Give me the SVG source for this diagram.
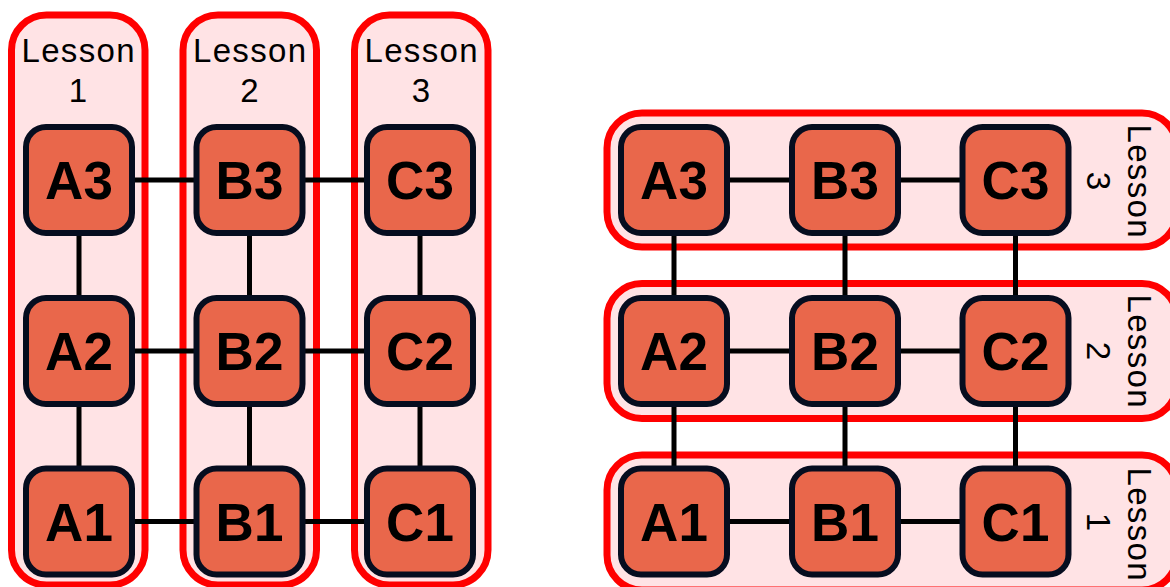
<svg xmlns="http://www.w3.org/2000/svg" width="1170" height="587" viewBox="0 0 1170 587">
<style>
.lane{fill:#ffe3e5;stroke:#ff0000;stroke-width:7}
.node rect{fill:#e9674b;stroke:#060d1f;stroke-width:6}
.node text{font-family:"Liberation Sans",Arial,sans-serif;font-weight:bold;font-size:53px;fill:#000;text-anchor:middle}
.lbl{font-family:"Liberation Sans",Arial,sans-serif;font-size:33px;fill:#000;text-anchor:middle}
.conn line{stroke:#000;stroke-width:5}
</style>
<rect width="1170" height="587" fill="#fff"/>
<!-- left lanes -->
<g id="lane-l1"><rect class="lane" x="11.5" y="15" width="133.5" height="570" rx="35"/><text class="lbl" x="78" y="62" textLength="113">Lesson</text><text class="lbl" x="78" y="102">1</text></g>
<g id="lane-l2"><rect class="lane" x="183" y="15" width="133.5" height="570" rx="35"/><text class="lbl" x="249.5" y="62" textLength="113">Lesson</text><text class="lbl" x="249.5" y="102">2</text></g>
<g id="lane-l3"><rect class="lane" x="354.5" y="15" width="133.5" height="570" rx="35"/><text class="lbl" x="421" y="62" textLength="113">Lesson</text><text class="lbl" x="421" y="102">3</text></g>
<!-- right lanes -->
<g id="lane-r3"><rect class="lane" x="607" y="113" width="570" height="134" rx="35"/><text class="lbl" transform="translate(1128,181) rotate(90)" textLength="113">Lesson</text><text class="lbl" transform="translate(1087,181) rotate(90)">3</text></g>
<g id="lane-r2"><rect class="lane" x="607" y="283.5" width="570" height="135" rx="35"/><text class="lbl" transform="translate(1128,351) rotate(90)" textLength="113">Lesson</text><text class="lbl" transform="translate(1087,351) rotate(90)">2</text></g>
<g id="lane-r1"><rect class="lane" x="607" y="455" width="570" height="135" rx="35"/><text class="lbl" transform="translate(1128,524) rotate(90)" textLength="113">Lesson</text><text class="lbl" transform="translate(1087,522) rotate(90)">1</text></g>
<!-- connectors -->
<g id="connectors" class="conn">
<line x1="79" y1="180" x2="249.5" y2="180"/><line x1="249.5" y1="180" x2="420" y2="180"/>
<line x1="79" y1="351" x2="249.5" y2="351"/><line x1="249.5" y1="351" x2="420" y2="351"/>
<line x1="79" y1="521.5" x2="249.5" y2="521.5"/><line x1="249.5" y1="521.5" x2="420" y2="521.5"/>
<line x1="79" y1="180" x2="79" y2="351"/><line x1="79" y1="351" x2="79" y2="521.5"/>
<line x1="249.5" y1="180" x2="249.5" y2="351"/><line x1="249.5" y1="351" x2="249.5" y2="521.5"/>
<line x1="420" y1="180" x2="420" y2="351"/><line x1="420" y1="351" x2="420" y2="521.5"/>
<line x1="674" y1="180" x2="845" y2="180"/><line x1="845" y1="180" x2="1015.5" y2="180"/>
<line x1="674" y1="351" x2="845" y2="351"/><line x1="845" y1="351" x2="1015.5" y2="351"/>
<line x1="674" y1="521.5" x2="845" y2="521.5"/><line x1="845" y1="521.5" x2="1015.5" y2="521.5"/>
<line x1="674" y1="180" x2="674" y2="351"/><line x1="674" y1="351" x2="674" y2="521.5"/>
<line x1="845" y1="180" x2="845" y2="351"/><line x1="845" y1="351" x2="845" y2="521.5"/>
<line x1="1015.5" y1="180" x2="1015.5" y2="351"/><line x1="1015.5" y1="351" x2="1015.5" y2="521.5"/>
</g>
<!-- left nodes -->
<g id="L-A3" class="node"><rect x="26" y="127" width="106" height="106" rx="20"/><text x="79" y="199">A3</text></g>
<g id="L-B3" class="node"><rect x="196.5" y="127" width="106" height="106" rx="20"/><text x="249.5" y="199">B3</text></g>
<g id="L-C3" class="node"><rect x="367" y="127" width="106" height="106" rx="20"/><text x="420" y="199">C3</text></g>
<g id="L-A2" class="node"><rect x="26" y="298" width="106" height="106" rx="20"/><text x="79" y="370">A2</text></g>
<g id="L-B2" class="node"><rect x="196.5" y="298" width="106" height="106" rx="20"/><text x="249.5" y="370">B2</text></g>
<g id="L-C2" class="node"><rect x="367" y="298" width="106" height="106" rx="20"/><text x="420" y="370">C2</text></g>
<g id="L-A1" class="node"><rect x="26" y="468.5" width="106" height="106" rx="20"/><text x="79" y="540.5">A1</text></g>
<g id="L-B1" class="node"><rect x="196.5" y="468.5" width="106" height="106" rx="20"/><text x="249.5" y="540.5">B1</text></g>
<g id="L-C1" class="node"><rect x="367" y="468.5" width="106" height="106" rx="20"/><text x="420" y="540.5">C1</text></g>
<!-- right nodes -->
<g id="R-A3" class="node"><rect x="621" y="127" width="106" height="106" rx="20"/><text x="674" y="199">A3</text></g>
<g id="R-B3" class="node"><rect x="792" y="127" width="106" height="106" rx="20"/><text x="845" y="199">B3</text></g>
<g id="R-C3" class="node"><rect x="962.5" y="127" width="106" height="106" rx="20"/><text x="1015.5" y="199">C3</text></g>
<g id="R-A2" class="node"><rect x="621" y="298" width="106" height="106" rx="20"/><text x="674" y="370">A2</text></g>
<g id="R-B2" class="node"><rect x="792" y="298" width="106" height="106" rx="20"/><text x="845" y="370">B2</text></g>
<g id="R-C2" class="node"><rect x="962.5" y="298" width="106" height="106" rx="20"/><text x="1015.5" y="370">C2</text></g>
<g id="R-A1" class="node"><rect x="621" y="468.5" width="106" height="106" rx="20"/><text x="674" y="540.5">A1</text></g>
<g id="R-B1" class="node"><rect x="792" y="468.5" width="106" height="106" rx="20"/><text x="845" y="540.5">B1</text></g>
<g id="R-C1" class="node"><rect x="962.5" y="468.5" width="106" height="106" rx="20"/><text x="1015.5" y="540.5">C1</text></g>
</svg>
